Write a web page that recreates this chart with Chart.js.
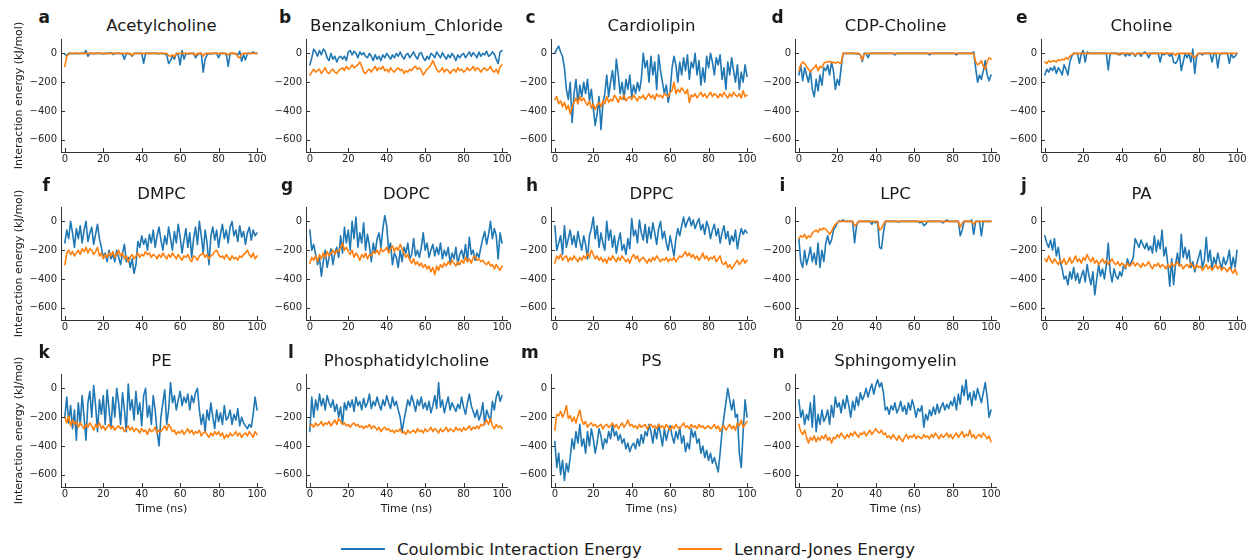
<!DOCTYPE html>
<html>
<head>
<meta charset="utf-8">
<title>Interaction energy time series</title>
<script src="https://cdn.jsdelivr.net/npm/chart.js@4/dist/chart.umd.min.js"></script>
<style>
  html, body { margin: 0; padding: 0; background: #ffffff; }
  #fig { position: relative; width: 1247px; height: 560px; overflow: hidden;
         font-family: 'DejaVu Sans', sans-serif; color: #1a1a1a; }
  #fig canvas { position: absolute; }
  .letter { position: absolute; font-weight: bold; font-size: 17px; line-height: 17px; white-space: nowrap; }
  .ttl { position: absolute; font-size: 16.5px; line-height: 16.5px; width: 260px; text-align: center; white-space: nowrap; }
  .legline { position: absolute; height: 2px; width: 44px; }
  .legtxt { position: absolute; font-size: 16.5px; line-height: 16.5px; white-space: nowrap; }
</style>
</head>
<body>
<div id="fig">
  <div class="legline" style="left:341px;top:548px;background:#1f77b4"></div>
  <div class="legtxt" style="left:397px;top:542px">Coulombic Interaction Energy</div>
  <div class="legline" style="left:678px;top:548px;background:#ff7f0e"></div>
  <div class="legtxt" style="left:734px;top:542px">Lennard-Jones Energy</div>
</div>
<script>
// Simulation time axis (ns) and tick positions
const timeNs = [0,1,2,3,4,5,6,7,8,9,10,11,12,13,14,15,16,17,18,19,20,21,22,23,24,25,26,27,28,29,30,31,32,33,34,35,36,37,38,39,40,41,42,43,44,45,46,47,48,49,50,51,52,53,54,55,56,57,58,59,60,61,62,63,64,65,66,67,68,69,70,71,72,73,74,75,76,77,78,79,80,81,82,83,84,85,86,87,88,89,90,91,92,93,94,95,96,97,98,99,100];
const timeTicks = [0, 20, 40, 60, 80, 100];
const energyTicks = [-600, -400, -200, 0];

const panelNames = ['Acetylcholine', 'Benzalkonium_Chloride', 'Cardiolipin', 'CDP-Choline', 'Choline',
  'DMPC', 'DOPC', 'DPPC', 'LPC', 'PA', 'PE', 'Phosphatidylcholine', 'PS', 'Sphingomyelin'];
const panelLetters = ['a','b','c','d','e','f','g','h','i','j','k','l','m','n'];

// Coulombic (coul) and Lennard-Jones (lj) interaction energies, kJ/mol, one value per ns
const coulAcetylcholine = [-5,-15,0,0,-3,0,0,-2,0,0, 0,20,-20,0,0,-3,0,0,0,0, -5,0,0,0,5,-8,0,0,0,0, -5,-40,0,0,-5,-20,0,0,0,0, 0,-70,0,0,0,0,0,0,0,-3, 0,0,-5,-10,-70,-50,-20,-40,0,-10, -80,20,-40,0,-5,0,0,0,-30,-10, 0,0,-130,-40,-10,0,-5,0,0,0, -30,0,0,0,-5,-90,0,0,0,-5, -10,15,-55,-10,-45,0,0,0,10,0, 0];
const ljAcetylcholine = [-90,-20,-5,0,0,0,0,0,0,0, 0,0,0,0,0,0,0,0,0,0, 0,0,0,0,0,0,0,0,0,0, 0,0,0,0,0,-15,0,0,0,0, 0,0,0,0,0,0,0,0,0,0, 0,0,0,0,-15,-20,-10,-25,0,0, 0,0,0,0,0,0,0,0,-15,0, 0,0,-20,0,0,0,0,0,0,0, 0,0,0,0,0,-10,0,0,0,0, -25,-30,-5,0,0,0,0,0,0,0, 0];

const coulBenzalkonium = [-80,-30,30,10,-20,20,-10,30,15,-30, -50,0,-40,-20,-60,-30,-20,-40,-20,-50, 10,20,-10,15,0,-30,10,-10,5,-20, -30,0,-20,-50,-10,-40,-20,-50,-10,-30, 0,-20,-40,-10,-30,0,-20,10,-20,-40, -10,0,-30,-10,10,-20,-40,0,5,-30, -50,-20,-40,0,-10,-30,10,-10,-30,5, -20,-40,-10,-30,0,-20,-50,-10,-30,-10, 0,-30,-10,10,-20,5,-10,-30,10,-20, 0,-10,15,-20,-10,10,-5,-40,-70,10, 20];
const ljBenzalkonium = [-150,-130,-110,-130,-120,-110,-140,-120,-100,-130, -140,-120,-110,-130,-140,-120,-110,-100,-120,-90, -110,-100,-80,-100,-90,-80,-60,-90,-130,-140, -120,-110,-130,-110,-90,-120,-100,-110,-90,-120, -110,-130,-100,-120,-130,-110,-100,-120,-110,-140, -120,-130,-110,-120,-100,-90,-110,-100,-120,-150, -130,-110,-100,-80,-50,-80,-110,-130,-120,-100, -130,-110,-120,-140,-120,-110,-130,-100,-120,-110, -130,-120,-100,-120,-110,-90,-120,-100,-110,-130, -110,-100,-120,-110,-90,-120,-130,-110,-140,-90, -80];

const coulCardiolipin = [0,30,50,10,-20,-100,-250,-320,-200,-480, -280,-180,-350,-220,-300,-200,-280,-180,-330,-250, -380,-500,-420,-300,-530,-350,-280,-150,-300,-200, -120,-250,-40,-150,-280,-200,-320,-180,-250,-150, -300,-220,-280,-200,-260,-180,0,-100,-50,-200, -20,-150,-60,-250,-10,-120,-200,-280,-220,-340, -260,-100,-20,-80,-200,-60,-150,-30,-120,-10, -180,-60,-100,0,-150,-50,-220,-100,-200,-20, -100,0,-60,-150,-30,-80,-10,-180,-100,-250, -60,-150,-30,-120,-200,-80,-250,-130,-200,-80, -160];
const ljCardiolipin = [-320,-300,-350,-330,-370,-340,-390,-360,-420,-370, -340,-310,-350,-300,-330,-310,-340,-360,-330,-380, -350,-390,-360,-340,-370,-330,-350,-300,-340,-320, -330,-290,-310,-340,-300,-320,-290,-330,-310,-300, -320,-290,-310,-330,-300,-310,-290,-320,-300,-280, -310,-290,-320,-280,-300,-290,-310,-280,-290,-300, -270,-260,-200,-280,-250,-270,-240,-260,-280,-250, -340,-290,-300,-280,-310,-290,-270,-300,-280,-310, -290,-270,-300,-280,-290,-310,-280,-300,-270,-290, -310,-280,-300,-270,-290,-300,-280,-310,-260,-300, -290];

const coulCdpCholine = [-150,-80,-190,-100,-150,-200,-120,-250,-300,-180, -260,-150,-220,-100,-120,-80,-150,-60,-120,-250, -180,-220,-100,0,0,0,0,0,0,0, -5,0,-10,-57,0,0,-30,0,0,0, 0,0,0,0,0,0,0,0,0,0, -10,0,0,0,0,0,0,0,0,0, 0,0,0,0,0,0,0,0,-10,0, 0,0,0,0,0,0,0,0,0,0, 0,0,-10,0,0,0,0,0,0,0, 0,10,-100,-200,-150,-180,-120,-50,-150,-190, -150];
const ljCdpCholine = [-120,-80,-60,-70,-90,-110,-130,-110,-100,-80, -120,-90,-100,-70,-60,-60,-55,-65,-60,-70, -60,-65,-70,0,0,0,0,0,0,0, 0,0,-10,-45,-5,0,0,0,0,0, 0,0,0,0,0,0,0,0,0,0, 0,0,0,0,0,0,0,0,0,0, 0,0,0,0,0,0,0,0,0,0, 0,0,0,0,0,0,0,0,0,0, 0,0,0,0,0,0,0,0,0,0, 0,0,-60,-80,-70,-50,-90,-110,-60,-30, -40];

const coulCholine = [-150,-110,-130,-100,-120,-90,-140,-100,-120,-150, -80,-110,-150,-60,-20,0,0,0,-70,0, 20,-60,10,0,0,0,0,0,0,0, 0,0,0,-115,0,0,0,0,0,-10, 0,0,-20,0,-15,0,0,-20,0,0, -20,0,10,0,-30,0,0,0,0,0, -60,0,-10,0,0,-20,0,-60,-70,-50, 0,-120,-60,0,-30,0,-60,30,-140,-20, 0,0,-10,0,0,0,0,-60,0,0, -100,-10,0,0,0,0,-70,0,-30,-20, 0];
const ljCholine = [-60,-70,-50,-60,-55,-50,-60,-45,-50,-40, -45,-30,-40,-20,-10,0,0,0,0,0, 0,0,0,0,0,0,0,0,0,0, 0,0,0,0,0,0,0,0,-10,0, 0,0,0,0,0,0,0,-10,0,0, 0,0,0,0,0,0,0,0,0,0, 0,0,0,0,0,0,0,0,-15,0, 0,0,0,0,0,0,0,-20,-30,-10, 0,0,0,0,0,0,0,0,0,0, 0,0,0,0,0,0,0,0,0,0, 0];

const coulDMPC = [-150,-60,-120,0,-80,-180,-50,-120,-30,-150, -60,0,-140,-80,-40,-160,-90,-20,-120,-180, -250,-220,-280,-200,-260,-230,-280,-200,-250,-300, -220,-160,-280,-250,-320,-260,-360,-300,-140,-180, -100,-160,-120,-200,-90,-150,-60,-180,-100,-40, -130,-200,-100,-160,-40,-120,-200,-70,-150,-20, -110,-220,-130,-50,-180,-80,-250,-120,-40,-160, 0,-100,-220,-60,-150,-300,-100,-40,-130,-60, -180,-90,-20,-120,-60,-150,-40,0,-100,-60, -140,-30,-110,-70,-160,-80,-40,-130,-60,-100, -80];
const ljDMPC = [-300,-220,-200,-230,-210,-240,-220,-200,-230,-190, -210,-180,-220,-190,-200,-230,-210,-180,-240,-220, -260,-230,-250,-220,-240,-210,-250,-230,-200,-240, -220,-260,-240,-280,-250,-230,-260,-240,-220,-250, -230,-240,-210,-230,-220,-250,-230,-240,-260,-230, -250,-220,-240,-260,-230,-250,-220,-240,-260,-230, -250,-270,-240,-250,-230,-260,-280,-240,-250,-270, -240,-230,-220,-250,-230,-260,-240,-230,-210,-200, -230,-250,-240,-260,-230,-250,-270,-240,-260,-250, -270,-240,-250,-230,-220,-200,-230,-250,-220,-260, -240];

const coulDOPC = [-60,-200,-160,-230,-300,-250,-380,-280,-200,-320, -250,-190,-300,-220,-180,-250,-100,-220,-40,-150, -60,-200,0,-120,30,-180,-80,-150,-10,-200, -90,-170,-280,-150,-220,-120,-80,-180,-50,40, -30,-200,-150,-300,-220,-250,-320,-200,-280,-180, -220,-150,-260,-230,-120,-240,-200,-250,-180,-80, -200,-150,-250,-200,-160,-240,-180,-230,-150,-260, -200,-240,-180,-290,-220,-260,-180,-300,-230,-200, -260,-160,-280,-110,-230,-200,-270,-220,-250,-180, -120,-70,-160,-90,0,-120,-50,-100,-260,-80, -150];
const ljDOPC = [-290,-250,-270,-240,-280,-230,-260,-220,-250,-210, -240,-220,-200,-230,-200,-210,-180,-150,-200,-180, -210,-230,-200,-250,-220,-240,-270,-230,-250,-220, -260,-230,-240,-210,-220,-200,-230,-190,-210,-200, -180,-220,-190,-170,-210,-180,-200,-160,-190,-220, -250,-230,-270,-290,-260,-300,-280,-310,-290,-320, -300,-330,-310,-350,-320,-370,-310,-340,-300,-320, -290,-310,-280,-300,-270,-290,-310,-280,-300,-270, -290,-250,-280,-260,-290,-250,-240,-270,-260,-280, -270,-290,-300,-280,-310,-300,-330,-300,-320,-340, -310];

const coulDPPC = [-30,-200,-150,-100,-230,-30,-180,-120,-60,-160, -100,-180,-70,-140,-200,-100,-160,-260,-100,-50, 30,-120,-30,-180,-80,-150,-200,0,-130,-60, -180,-100,-220,-140,-80,-200,-160,-230,-120,-190, 20,-100,-60,-150,10,-80,-130,-20,-150,-40, -120,-10,-80,-160,-50,0,-120,-70,-150,-200, -100,-170,-240,-120,-50,-100,-30,30,-40,0, 30,-30,10,-50,-10,20,-60,-20,-90,0, -40,-120,-60,-20,-100,-50,-150,-80,-30,-120, -70,-160,-100,-140,-60,-190,-110,-50,-90,-60, -80];
const ljDPPC = [-290,-240,-260,-230,-270,-250,-240,-280,-250,-270, -240,-260,-280,-250,-270,-240,-260,-220,-250,-200, -230,-260,-240,-270,-250,-280,-260,-290,-250,-270, -240,-260,-280,-250,-270,-240,-260,-280,-260,-290, -250,-230,-260,-240,-280,-260,-250,-270,-290,-260, -280,-250,-270,-240,-260,-280,-260,-270,-250,-280, -260,-270,-250,-280,-260,-240,-250,-230,-210,-240, -220,-250,-230,-260,-240,-270,-250,-220,-260,-240, -270,-250,-260,-240,-280,-260,-240,-290,-300,-280, -320,-300,-330,-310,-290,-270,-300,-280,-260,-290, -270];

const coulLPC = [-120,-280,-320,-200,-300,-250,-180,-280,-220,-300, -150,-320,-200,-280,-150,-100,-160,-130,-60,-40, -10,5,0,10,0,0,0,0,0,-150, -30,0,0,0,0,0,0,0,-20,0, -10,0,-180,-190,-80,0,0,0,0,0, 0,0,-5,0,0,0,0,0,0,0, 0,0,0,-10,0,-30,-20,0,0,0, 0,0,0,0,0,-10,0,10,0,0, 0,0,0,0,-100,-60,0,0,0,0, 10,-90,0,0,0,-100,0,0,0,0, 0];
const ljLPC = [-120,-100,-110,-90,-120,-100,-110,-80,-70,-60, -75,-50,-60,-45,-55,-70,-90,-70,-40,-20, -10,0,0,0,0,0,0,0,0,-30, -20,0,0,0,0,0,0,0,0,0, 0,0,-60,-50,-20,0,0,0,0,0, 0,0,0,0,0,0,0,0,0,0, 0,0,0,0,0,0,0,0,0,0, 0,0,0,0,0,0,0,0,0,0, 0,0,0,0,-40,-10,0,0,0,0, 0,-20,0,0,0,0,0,0,0,0, 0];

const coulPA = [-100,-150,-180,-130,-200,-120,-240,-180,-280,-330, -400,-380,-440,-350,-400,-320,-410,-360,-430,-380, -340,-420,-300,-380,-440,-350,-510,-400,-300,-380, -330,-400,-300,-150,-350,-420,-330,-380,-400,-350, -380,-300,-330,-260,-310,-280,-250,-120,-150,-180, -130,-160,-190,-150,-200,-170,-220,-100,-210,-130, -190,-60,-240,-180,-300,-450,-260,-440,-300,-220, -310,-90,-250,-180,-260,-200,-320,-280,-350,-300, -250,-200,-320,-270,-110,-280,-200,-330,-250,-300, -220,-280,-330,-250,-300,-270,-200,-330,-250,-320, -200];
const ljPA = [-260,-280,-240,-270,-290,-260,-280,-300,-270,-290, -260,-300,-280,-250,-290,-270,-240,-280,-260,-290, -250,-270,-230,-260,-280,-250,-290,-270,-300,-280, -260,-290,-270,-300,-280,-260,-290,-300,-280,-310, -290,-300,-320,-290,-310,-300,-280,-310,-290,-300, -320,-290,-310,-300,-280,-310,-330,-300,-310,-290, -320,-300,-310,-330,-300,-320,-290,-310,-300,-280, -310,-300,-330,-310,-300,-320,-290,-310,-330,-300, -320,-310,-340,-320,-300,-330,-310,-340,-320,-300, -330,-310,-340,-320,-330,-350,-320,-340,-360,-330, -370];

const coulPE = [-200,-60,-240,-120,-280,-150,-360,-100,-250,-50, -200,-360,-100,-20,-200,20,-120,-300,-80,-180, -50,-250,-10,-150,-280,-60,-200,0,-100,-250, -30,-150,-300,30,-150,-80,-220,-20,-180,-100, -260,-50,0,-200,-120,-250,-50,-150,-300,-400, -200,-100,-10,-250,-150,40,-100,-50,-150,-80, -20,-120,-60,-100,-40,-150,-50,-100,-30,0, -150,-250,-180,-300,-150,-220,-100,-200,-280,-150, -230,-170,-250,-120,-220,-200,-150,-250,-180,-220, -140,-260,-200,-240,-260,-280,-250,-270,-180,-60, -150];
const ljPE = [-200,-240,-190,-260,-220,-250,-230,-270,-240,-260, -280,-250,-270,-240,-260,-290,-250,-270,-240,-280, -260,-290,-270,-250,-280,-260,-290,-270,-260,-280, -270,-300,-280,-260,-290,-270,-300,-280,-290,-310, -280,-300,-290,-320,-280,-300,-290,-270,-310,-290, -300,-280,-260,-290,-250,-270,-300,-290,-320,-300, -310,-290,-320,-300,-280,-310,-290,-320,-300,-310, -290,-330,-310,-300,-320,-340,-310,-330,-300,-320, -300,-330,-310,-350,-320,-340,-310,-330,-320,-300, -330,-310,-340,-320,-310,-330,-300,-320,-340,-300, -320];

const coulPhosphatidylcholine = [-300,-60,-200,-80,-150,-40,-120,-70,-150,-50, -100,-130,-80,-160,-110,-200,-130,-250,-100,-150, -90,-130,-80,-160,-60,-120,-90,-150,-70,-130, -100,-40,-140,-90,-120,-60,-110,-150,-80,-120, -50,-100,-140,-60,-120,-90,-150,-200,-300,-220, -150,-80,-120,-50,-100,-160,-80,-120,-60,-140, -100,-150,-90,-170,-120,-50,-140,40,-130,-80, -170,-110,-60,-150,-100,-130,-160,-110,-140,-60, -130,-180,-100,-40,-120,-160,-200,-150,-220,-180, -100,-250,-150,-190,-230,-90,-150,-60,-20,-90, -50];
const ljPhosphatidylcholine = [-260,-250,-270,-240,-260,-250,-230,-260,-240,-250, -230,-260,-240,-220,-250,-210,-230,-250,-240,-260, -250,-270,-250,-240,-260,-250,-270,-260,-280,-260, -270,-250,-280,-260,-270,-290,-270,-300,-280,-270, -290,-280,-300,-290,-310,-290,-300,-280,-310,-300, -320,-290,-310,-300,-290,-310,-280,-300,-290,-310, -280,-300,-290,-270,-300,-280,-290,-310,-280,-300, -290,-270,-300,-280,-290,-300,-270,-290,-280,-300, -270,-290,-280,-260,-290,-270,-280,-260,-280,-250, -260,-240,-220,-250,-210,-260,-280,-250,-270,-260, -280];

const coulPS = [-370,-550,-450,-600,-500,-640,-520,-580,-480,-350, -420,-300,-380,-250,-400,-350,-450,-300,-400,-280, -350,-450,-380,-280,-330,-420,-350,-380,-300,-350, -250,-330,-300,-360,-320,-380,-350,-420,-380,-440, -400,-380,-420,-350,-400,-320,-380,-300,-330,-250, -300,-380,-280,-350,-250,-320,-400,-280,-360,-300, -260,-330,-380,-300,-350,-270,-380,-330,-440,-380, -420,-280,-340,-300,-380,-350,-450,-400,-480,-430, -500,-450,-520,-480,-530,-580,-450,-300,-200,-100, 0,-80,-150,-80,-200,-180,-450,-550,-300,-80, -200];
const ljPS = [-290,-180,-190,-160,-200,-170,-120,-210,-190,-230, -200,-240,-190,-150,-220,-250,-230,-270,-250,-240, -260,-250,-270,-260,-250,-280,-260,-250,-270,-260, -240,-270,-250,-280,-260,-240,-270,-250,-220,-260, -250,-270,-260,-280,-250,-270,-260,-250,-280,-260, -250,-270,-260,-280,-250,-270,-260,-280,-250,-270, -290,-260,-280,-250,-270,-280,-260,-240,-270,-260, -280,-250,-270,-260,-280,-250,-270,-260,-280,-270, -260,-280,-270,-250,-280,-260,-300,-270,-260,-290, -270,-250,-280,-260,-290,-240,-260,-220,-270,-250, -230];

const coulSphingomyelin = [-80,-200,-150,-250,-180,-220,-100,-270,-50,-300, -180,-250,-150,-230,-200,-150,-250,-120,-200,-60, -130,-100,-170,-80,-140,-50,-120,-200,-90,-150, -60,-120,-30,-80,-50,0,-60,-10,30,-40, 20,60,10,40,-30,-150,-130,-180,-120,-150, -100,-170,-140,-90,-160,-120,-180,-100,-150,-80, -130,-200,-140,-160,-120,-270,-180,-220,-150,-190, -130,-180,-110,-170,-130,-100,-150,-110,-140,-90, -120,-60,-150,-40,-110,20,-50,60,-80,-30, -120,-20,-80,0,-50,-100,-30,40,-60,-200, -150];
const ljSphingomyelin = [-250,-300,-320,-290,-340,-380,-340,-360,-330,-370, -340,-360,-330,-350,-320,-360,-340,-380,-340,-350, -320,-340,-310,-330,-350,-320,-340,-310,-330,-300, -320,-340,-310,-320,-300,-330,-310,-290,-320,-300, -280,-300,-310,-290,-320,-310,-340,-330,-350,-320, -340,-360,-330,-350,-370,-340,-320,-350,-330,-340, -320,-350,-330,-340,-350,-320,-340,-330,-350,-320, -340,-310,-330,-350,-320,-340,-330,-310,-340,-320, -350,-330,-310,-340,-320,-300,-340,-320,-330,-290, -340,-320,-350,-330,-320,-340,-310,-330,-350,-330, -370];

const coulSeries = [coulAcetylcholine, coulBenzalkonium, coulCardiolipin, coulCdpCholine, coulCholine,
  coulDMPC, coulDOPC, coulDPPC, coulLPC, coulPA, coulPE, coulPhosphatidylcholine, coulPS, coulSphingomyelin];
const ljSeries = [ljAcetylcholine, ljBenzalkonium, ljCardiolipin, ljCdpCholine, ljCholine,
  ljDMPC, ljDOPC, ljDPPC, ljLPC, ljPA, ljPE, ljPhosphatidylcholine, ljPS, ljSphingomyelin];

// ---- styling & layout ----
const BLUE = '#1f77b4', ORANGE = '#ff7f0e';
const AXIS_COLOR = '#333333', TICK_COLOR = '#262626', TEXT_COLOR = '#1a1a1a';
Chart.defaults.font.family = "'DejaVu Sans', sans-serif";

const colLeft = [61, 306, 551, 795, 1041];   // x of each column's y-axis spine
const rowTop = [39, 207, 374];               // y of each row's plot top
const letterLeft = [38.5, 279, 525.5, 771.5, 1016, 42.5, 281, 526, 779.5, 1021, 38.5, 288, 521, 772.5];
const PLOT_W = 201, PLOT_H = 113, Y_AXIS_W = 55, PAD_TOP = 30, PAD_BOTTOM = 22, PAD_RIGHT = 14;

const fmtTick = v => (v < 0 ? '\u2212' + Math.abs(v) : String(v));
const toPoints = vals => vals.map((v, k) => ({ x: timeNs[k], y: v }));

// matplotlib-style ticks pointing into the plot area
const inwardTicks = {
  id: 'inwardTicks',
  afterDraw(chart) {
    const { ctx, chartArea: ca, scales: { x, y } } = chart;
    ctx.save();
    ctx.strokeStyle = AXIS_COLOR;
    ctx.lineWidth = 1;
    ctx.beginPath();
    timeTicks.forEach(v => {
      const px = Math.round(x.getPixelForValue(v)) + 0.5;
      ctx.moveTo(px, ca.bottom);
      ctx.lineTo(px, ca.bottom - 4);
    });
    energyTicks.forEach(v => {
      const py = Math.round(y.getPixelForValue(v)) + 0.5;
      ctx.moveTo(ca.left, py);
      ctx.lineTo(ca.left + 4, py);
    });
    ctx.stroke();
    ctx.restore();
  }
};

const fig = document.getElementById('fig');

panelNames.forEach((name, i) => {
  const col = i % 5, row = Math.floor(i / 5);
  const ax = colLeft[col], top = rowTop[row];
  const bottomRow = row === 2;
  const xH = bottomRow ? 29 : 18;

  const letter = document.createElement('div');
  letter.className = 'letter';
  letter.textContent = panelLetters[i];
  letter.style.left = letterLeft[i] + 'px';
  letter.style.top = (top - 16 - 0.846 * 17) + 'px';
  fig.appendChild(letter);

  const ttl = document.createElement('div');
  ttl.className = 'ttl';
  ttl.textContent = name;
  ttl.style.left = (ax + PLOT_W / 2 - 130) + 'px';
  ttl.style.top = (top - 21.5) + 'px';
  fig.appendChild(ttl);

  const canvas = document.createElement('canvas');
  canvas.width = Y_AXIS_W + PLOT_W + PAD_RIGHT;
  canvas.height = PAD_TOP + PLOT_H + xH + PAD_BOTTOM;
  canvas.style.left = (ax - Y_AXIS_W) + 'px';
  canvas.style.top = (top - PAD_TOP) + 'px';
  fig.appendChild(canvas);

  new Chart(canvas, {
    type: 'line',
    data: {
      datasets: [
        { label: 'Coulombic Interaction Energy', data: toPoints(coulSeries[i]), borderColor: BLUE, order: 1 },
        { label: 'Lennard-Jones Energy', data: toPoints(ljSeries[i]), borderColor: ORANGE, order: 0 }
      ]
    },
    options: {
      responsive: false,
      animation: false,
      devicePixelRatio: 1,
      events: [],
      layout: { padding: { left: 0, right: PAD_RIGHT, top: PAD_TOP, bottom: PAD_BOTTOM } },
      elements: {
        point: { radius: 0 },
        line: { borderWidth: 1.6, tension: 0, borderJoinStyle: 'round', borderCapStyle: 'round', fill: false }
      },
      plugins: { legend: { display: false }, tooltip: { enabled: false }, title: { display: false } },
      scales: {
        x: {
          type: 'linear', min: -2, max: 102.6,
          afterBuildTicks: s => { s.ticks = timeTicks.map(v => ({ value: v })); },
          afterFit: s => { s.height = xH; },
          grid: { display: false, drawTicks: false },
          border: { display: true, color: AXIS_COLOR, width: 1 },
          ticks: { padding: 1, color: TICK_COLOR, font: { size: 10 }, maxRotation: 0, autoSkip: false, callback: v => fmtTick(v) },
          title: { display: bottomRow, text: 'Time (ns)', color: TEXT_COLOR, font: { size: 11 }, padding: { top: 0, bottom: 0 } }
        },
        y: {
          type: 'linear', min: -685, max: 100,
          afterBuildTicks: s => { s.ticks = energyTicks.map(v => ({ value: v })); },
          afterFit: s => { s.width = Y_AXIS_W; },
          grid: { display: false, drawTicks: false },
          border: { display: true, color: AXIS_COLOR, width: 1 },
          ticks: { padding: 4, color: TICK_COLOR, font: { size: 10 }, autoSkip: false, callback: v => fmtTick(v) },
          title: { display: col === 0, text: 'Interaction energy (kJ/mol)', color: TEXT_COLOR, font: { size: 11 }, padding: { top: 7, bottom: 0 } }
        }
      }
    },
    plugins: [inwardTicks]
  });
});
</script>
</body>
</html>
